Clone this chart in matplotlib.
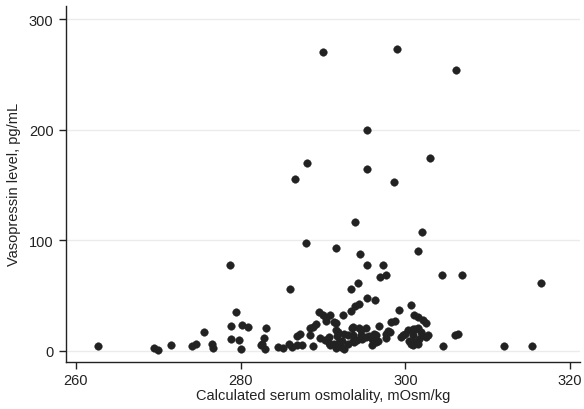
import numpy as np
import matplotlib
matplotlib.use("Agg")
from matplotlib import pyplot as plt

plt.rcParams['font.family'] = ['Liberation Sans', 'DejaVu Sans']

# serum osmolality (mOsm/kg) and vasopressin (pg/mL)
osm = [
    290.0, 299.0, 306.1, 295.3, 288.1, 295.4, 303.0, 286.6, 298.6, 293.9,
    302.0, 288.0, 291.6, 294.5, 301.5, 295.4, 297.3, 278.7, 297.7, 296.9,
    304.4, 306.9, 294.2, 293.4, 286.0, 316.5,
    295.3, 296.3, 294.4, 293.9, 300.7, 299.2, 293.4, 279.4, 289.5, 292.4,
    290.8, 290.0, 290.4, 301.0, 301.6, 302.1, 302.5, 291.3, 291.6, 290.4,
    298.3, 298.7, 289.2, 288.8, 278.8, 280.2, 280.9, 283.1, 296.8,
    262.7, 269.5, 270.0, 271.5, 274.1, 274.6, 275.6, 276.5, 276.7,
    278.8, 279.8, 280.1, 282.9, 282.6, 282.5, 283.0, 284.5, 285.1, 285.9,
    286.3, 286.8, 287.4, 286.9, 287.2, 288.4, 288.8, 288.4, 289.6, 290.2,
    290.7, 290.7, 290.8, 291.3, 291.6, 292.2, 292.6, 292.0, 291.8, 291.6,
    292.5, 293.0, 291.7, 292.3, 293.6, 294.4, 293.5, 295.2, 294.6, 293.8,
    293.0, 293.6, 293.7, 294.1, 294.6, 295.2, 294.7, 296.2, 296.0, 296.4,
    295.9, 295.6, 296.4, 296.7, 297.6, 297.9, 298.1, 297.7, 299.5, 299.7,
    300.0, 300.3, 300.9, 301.5, 301.2, 301.9, 300.9, 300.5, 301.1, 301.7,
    302.5, 302.0, 302.7, 300.7, 300.9, 301.5, 304.6, 306.0, 306.4, 312.0,
    315.4,
]
avp = [
    270.5, 273.5, 254.3, 200.0, 170.0, 164.4, 174.4, 155.0, 153.0, 116.5,
    107.4, 97.7, 92.6, 87.8, 90.0, 77.8, 77.8, 78.0, 69.0, 66.5,
    69.0, 68.3, 61.2, 55.8, 55.8, 61.0,
    48.0, 46.4, 42.5, 40.5, 41.0, 37.2, 36.0, 35.0, 35.5, 32.8,
    32.6, 32.5, 30.0, 32.5, 30.4, 28.0, 25.5, 26.5, 25.0, 27.4,
    26.5, 27.4, 24.2, 21.4, 22.7, 23.2, 21.4, 20.8, 22.2,
    4.2, 2.7, 0.9, 5.1, 3.9, 6.3, 16.9, 6.5, 2.2,
    10.6, 10.0, 2.0, 11.2, 6.3, 5.0, 2.0, 3.0, 2.4, 6.0,
    3.5, 5.4, 5.4, 13.3, 15.4, 13.9, 4.2, 20.5, 11.5, 10.0,
    12.4, 7.0, 4.8, 6.3, 2.4, 3.3, 1.8, 7.8, 16.9, 18.4,
    15.4, 13.9, 13.3, 9.3, 21.4, 20.5, 20.5, 20.5, 13.9, 7.8,
    6.3, 14.5, 9.3, 10.2, 18.4, 12.9, 10.9, 15.4, 10.9, 8.4,
    4.8, 13.3, 13.9, 9.3, 15.4, 17.5, 17.0, 11.5, 12.4, 13.9,
    15.4, 18.4, 19.9, 20.5, 20.1, 16.9, 14.5, 9.3, 7.8, 10.9,
    12.4, 14.5, 14.5, 6.3, 4.8, 6.0, 4.5, 13.9, 14.8, 3.9,
    3.9,
]

xticks = [260, 280, 300, 320]
yticks = [0, 100, 200, 300]

fig = plt.figure(figsize=(5.84, 4.10), dpi=100)
ax = fig.add_axes([0.113, 0.115, 0.880, 0.868])

ax.scatter(osm, avp, s=30, color="#222222", edgecolors="#222222", linewidths=0.3, zorder=3)

ax.set_xlim(258.8, 321.2)
ax.set_ylim(-10, 312)
ax.set_xticks(xticks)
ax.set_yticks(yticks)
ax.yaxis.grid(True, color="#ebebeb", linewidth=1.0, zorder=0)
ax.set_axisbelow(True)

for s in ["top", "right"]:
    ax.spines[s].set_visible(False)
for s in ["left", "bottom"]:
    ax.spines[s].set_linewidth(1.0)
    ax.spines[s].set_color("#222222")

ax.tick_params(axis="both", direction="out", length=5, width=1.0, labelsize=10.5,
               color="#222222", labelcolor="#222222")
ax.tick_params(axis="x", pad=3)
ax.tick_params(axis="y", pad=4)
ax.set_xlabel("Calculated serum osmolality, mOsm/kg", fontsize=10.5, color="#222222", labelpad=1)
ax.set_ylabel("Vasopressin level, pg/mL", fontsize=10.5, color="#222222", labelpad=6)

fig.savefig("out.png", dpi=100, facecolor="white")
